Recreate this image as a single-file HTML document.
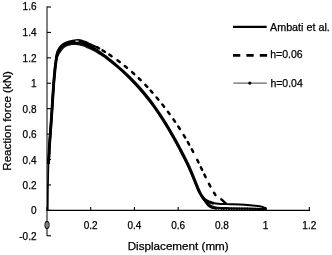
<!DOCTYPE html>
<html><head><meta charset="utf-8"><style>
html,body{margin:0;padding:0;background:#fff;}
svg{display:block;will-change:transform;}
</style></head><body>
<svg width="332" height="255" viewBox="0 0 332 255">
<rect width="332" height="255" fill="#fff"/>
<g stroke="#000" fill="none">
  <line x1="47" y1="6.5" x2="47" y2="236" stroke="#000" stroke-width="1"/>
  <line x1="46.5" y1="210.4" x2="310" y2="210.4" stroke-width="1.35"/>
  <line x1="47" y1="6.99" x2="51" y2="6.99" stroke-width="1.1"/>
  <line x1="47" y1="32.41" x2="51" y2="32.41" stroke-width="1.1"/>
  <line x1="47" y1="57.83" x2="51" y2="57.83" stroke-width="1.1"/>
  <line x1="47" y1="83.25" x2="51" y2="83.25" stroke-width="1.1"/>
  <line x1="47" y1="108.67" x2="51" y2="108.67" stroke-width="1.1"/>
  <line x1="47" y1="134.09" x2="51" y2="134.09" stroke-width="1.1"/>
  <line x1="47" y1="159.51" x2="51" y2="159.51" stroke-width="1.1"/>
  <line x1="47" y1="184.93" x2="51" y2="184.93" stroke-width="1.1"/>
  <line x1="47" y1="210.35" x2="51" y2="210.35" stroke-width="1.1"/>
  <line x1="47" y1="235.77" x2="51" y2="235.77" stroke-width="1.1"/>
  <line x1="47.00" y1="210.4" x2="47.00" y2="207.0" stroke-width="1.1"/>
  <line x1="90.72" y1="210.4" x2="90.72" y2="207.0" stroke-width="1.1"/>
  <line x1="134.44" y1="210.4" x2="134.44" y2="207.0" stroke-width="1.1"/>
  <line x1="178.16" y1="210.4" x2="178.16" y2="207.0" stroke-width="1.1"/>
  <line x1="221.88" y1="210.4" x2="221.88" y2="207.0" stroke-width="1.1"/>
  <line x1="265.60" y1="210.4" x2="265.60" y2="207.0" stroke-width="1.1"/>
  <line x1="309.32" y1="210.4" x2="309.32" y2="207.0" stroke-width="1.1"/>
</g>
<path d="M47.75,210.4 L47.9,190 L48.2,175 L48.5,162" stroke="#000" stroke-width="1.7" fill="none"/>
<path d="M48.45,164.00 C48.49,163.33 48.61,161.50 48.70,160.00 C48.79,158.50 48.87,157.50 49.00,155.00 C49.13,152.50 49.28,148.50 49.50,145.00 C49.72,141.50 50.00,138.17 50.30,134.00 C50.60,129.83 51.00,124.33 51.30,120.00 C51.60,115.67 51.72,113.83 52.10,108.00 C52.48,102.17 53.13,91.33 53.60,85.00 C54.07,78.67 54.50,74.00 54.90,70.00 C55.30,66.00 55.63,63.17 56.00,61.00 C56.37,58.83 56.62,58.30 57.10,57.00 C57.58,55.70 58.22,54.37 58.90,53.20 C59.58,52.03 60.42,50.98 61.20,50.00 C61.98,49.02 62.80,48.02 63.60,47.30 C64.40,46.58 65.18,46.10 66.00,45.70 C66.82,45.30 67.50,45.17 68.50,44.90 C69.50,44.63 70.75,44.25 72.00,44.10 C73.25,43.95 74.67,43.92 76.00,44.00 C77.33,44.08 78.67,44.33 80.00,44.60 C81.33,44.87 82.67,45.12 84.00,45.60 C85.33,46.08 86.67,46.88 88.00,47.50 C89.33,48.12 90.67,48.67 92.00,49.30 C93.33,49.93 94.67,50.52 96.00,51.30 C97.33,52.08 98.33,52.95 100.00,54.00 C101.67,55.05 104.33,56.45 106.00,57.60 C107.67,58.75 108.28,59.50 110.00,60.90 C111.72,62.30 114.33,64.35 116.30,66.00 C118.27,67.65 120.02,69.17 121.80,70.80 C123.58,72.43 125.36,74.18 127.00,75.80 C128.65,77.42 130.10,78.88 131.67,80.50 C133.24,82.12 134.89,83.83 136.42,85.50 C137.95,87.17 139.43,88.83 140.87,90.50 C142.31,92.17 143.71,93.83 145.07,95.50 C146.43,97.17 147.75,98.83 149.04,100.50 C150.33,102.17 151.57,103.83 152.79,105.50 C154.01,107.17 155.19,108.83 156.35,110.50 C157.51,112.17 158.64,113.83 159.74,115.50 C160.84,117.17 161.92,118.83 162.98,120.50 C164.04,122.17 165.06,123.83 166.08,125.50 C167.10,127.17 168.09,128.83 169.07,130.50 C170.05,132.17 171.02,133.83 171.97,135.50 C172.92,137.17 173.85,138.83 174.77,140.50 C175.69,142.17 176.60,143.83 177.50,145.50 C178.40,147.17 179.28,148.83 180.16,150.50 C181.03,152.17 181.90,153.83 182.75,155.50 C183.60,157.17 184.45,158.83 185.29,160.50 C186.13,162.17 187.00,163.83 187.78,165.50 C188.56,167.17 189.28,168.83 190.00,170.50 C190.72,172.17 191.42,173.83 192.10,175.50 C192.78,177.17 193.43,178.83 194.10,180.50 C194.77,182.17 195.42,183.83 196.10,185.50 C196.78,187.17 197.40,188.92 198.20,190.50 C199.00,192.08 200.10,193.65 200.90,195.00 C201.70,196.35 202.20,197.50 203.00,198.60 C203.80,199.70 204.70,200.62 205.70,201.60 C206.70,202.58 207.80,203.65 209.00,204.50 C210.20,205.35 211.40,206.15 212.90,206.70 C214.40,207.25 215.15,207.55 218.00,207.80 C220.85,208.05 224.67,208.07 230.00,208.20 C235.33,208.33 243.92,208.43 250.00,208.60 C256.08,208.77 263.75,209.10 266.50,209.20" stroke="#111" stroke-width="2.0" fill="none"/>
<path d="M201.60,195.20 C202.08,196.00 203.57,198.53 204.50,200.00 C205.43,201.47 206.37,202.93 207.20,204.00 C208.03,205.07 208.72,205.80 209.50,206.40 C210.28,207.00 210.82,207.32 211.90,207.60 C212.98,207.88 215.32,208.02 216.00,208.10" stroke="#000" stroke-width="2.4" fill="none"/>
<path d="M48.45,164.00 C48.49,163.33 48.61,161.50 48.70,160.00 C48.79,158.50 48.87,157.50 49.00,155.00 C49.13,152.50 49.28,148.50 49.50,145.00 C49.72,141.50 50.00,138.17 50.30,134.00 C50.60,129.83 51.00,124.33 51.30,120.00 C51.60,115.67 51.72,113.83 52.10,108.00 C52.48,102.17 53.13,91.33 53.60,85.00 C54.07,78.67 54.50,74.00 54.90,70.00 C55.30,66.00 55.72,63.33 56.00,61.00 C56.28,58.67 56.32,57.58 56.60,56.00 C56.88,54.42 57.22,52.80 57.70,51.50 C58.18,50.20 58.85,49.18 59.50,48.20 C60.15,47.22 60.85,46.32 61.60,45.60 C62.35,44.88 62.93,44.48 64.00,43.90 C65.07,43.32 66.67,42.57 68.00,42.10 C69.33,41.63 70.67,41.38 72.00,41.10 C73.33,40.82 74.67,40.52 76.00,40.40 C77.33,40.28 78.67,40.18 80.00,40.40 C81.33,40.62 82.67,41.22 84.00,41.70 C85.33,42.18 86.67,42.70 88.00,43.30 C89.33,43.90 90.67,44.68 92.00,45.30 C93.33,45.92 95.33,46.72 96.00,47.00" stroke="#000" stroke-width="2.4" fill="none"/>
<path d="M48.45,164.00 C48.49,163.33 48.61,161.50 48.70,160.00 C48.79,158.50 48.87,157.50 49.00,155.00 C49.13,152.50 49.28,148.50 49.50,145.00 C49.72,141.50 50.00,138.17 50.30,134.00 C50.60,129.83 51.00,124.33 51.30,120.00 C51.60,115.67 51.72,113.83 52.10,108.00 C52.48,102.17 53.13,91.33 53.60,85.00 C54.07,78.67 54.50,74.00 54.90,70.00 C55.30,66.00 55.68,63.33 56.00,61.00 C56.32,58.67 56.47,57.53 56.80,56.00 C57.13,54.47 57.47,53.05 58.00,51.80 C58.53,50.55 59.33,49.42 60.00,48.50 C60.67,47.58 61.33,46.92 62.00,46.30 C62.67,45.68 63.00,45.28 64.00,44.80 C65.00,44.32 66.67,43.77 68.00,43.40 C69.33,43.03 70.67,42.80 72.00,42.60 C73.33,42.40 74.67,42.22 76.00,42.20 C77.33,42.18 78.67,42.25 80.00,42.50 C81.33,42.75 82.67,43.20 84.00,43.70 C85.33,44.20 86.67,44.87 88.00,45.50 C89.33,46.13 90.67,46.78 92.00,47.50 C93.33,48.22 94.67,48.95 96.00,49.80 C97.33,50.65 98.33,51.40 100.00,52.60 C101.67,53.80 104.33,55.73 106.00,57.00 C107.67,58.27 108.34,58.87 110.00,60.20 C111.66,61.53 114.02,63.37 115.97,65.00 C117.92,66.63 119.86,68.33 121.72,70.00 C123.58,71.67 125.38,73.33 127.12,75.00 C128.86,76.67 130.54,78.33 132.17,80.00 C133.80,81.67 135.39,83.33 136.92,85.00 C138.45,86.67 139.93,88.33 141.37,90.00 C142.81,91.67 144.21,93.33 145.57,95.00 C146.93,96.67 148.25,98.33 149.54,100.00 C150.83,101.67 152.07,103.33 153.29,105.00 C154.51,106.67 155.69,108.33 156.85,110.00 C158.01,111.67 159.14,113.33 160.24,115.00 C161.34,116.67 162.42,118.33 163.48,120.00 C164.54,121.67 165.56,123.33 166.58,125.00 C167.60,126.67 168.59,128.33 169.57,130.00 C170.55,131.67 171.52,133.33 172.47,135.00 C173.42,136.67 174.35,138.33 175.27,140.00 C176.19,141.67 177.10,143.33 178.00,145.00 C178.90,146.67 179.78,148.33 180.66,150.00 C181.53,151.67 182.40,153.33 183.25,155.00 C184.10,156.67 184.95,158.33 185.79,160.00 C186.63,161.67 187.50,163.33 188.28,165.00 C189.06,166.67 189.78,168.33 190.50,170.00 C191.22,171.67 191.92,173.33 192.60,175.00 C193.28,176.67 193.93,178.33 194.60,180.00 C195.27,181.67 195.92,183.33 196.60,185.00 C197.28,186.67 197.98,188.40 198.70,190.00 C199.42,191.60 200.15,193.28 200.90,194.60 C201.65,195.92 202.38,196.95 203.20,197.90 C204.02,198.85 204.87,199.63 205.80,200.30 C206.73,200.97 207.77,201.48 208.80,201.90 C209.83,202.32 211.12,202.58 212.00,202.80 C212.88,203.02 213.75,203.13 214.10,203.20" stroke="#000" stroke-width="2.9" fill="none" stroke-linejoin="round"/>
<path d="M208.80,201.90 C209.33,202.05 211.12,202.58 212.00,202.80 C212.88,203.02 213.10,203.05 214.10,203.20 C215.10,203.35 216.68,203.57 218.00,203.70 C219.32,203.83 220.00,203.92 222.00,204.00 C224.00,204.08 227.00,204.12 230.00,204.20 C233.00,204.28 236.67,204.33 240.00,204.50 C243.33,204.67 247.00,204.95 250.00,205.20 C253.00,205.45 255.83,205.68 258.00,206.00 C260.17,206.32 261.58,206.63 263.00,207.10 C264.42,207.57 265.92,208.52 266.50,208.80" stroke="#000" stroke-width="1.9" fill="none"/>
<path d="M96.76,46.98 L97.35,47.31 L97.94,47.65 L98.53,47.99 L99.11,48.33 L99.18,48.36 M102.52,50.35 L103.07,50.69 L103.62,51.03 L104.17,51.36 L104.71,51.70 L104.89,51.81 M109.33,54.66 L109.90,55.04 L110.46,55.41 L111.02,55.79 L111.57,56.17 L111.62,56.20 M117.47,60.33 L118.03,60.74 L118.59,61.15 L119.14,61.57 L119.69,61.98 L119.74,62.02 M124.78,65.95 L125.29,66.37 L125.80,66.78 L126.30,67.19 L126.80,67.61 L126.94,67.72 M132.14,72.18 L132.65,72.63 L133.15,73.08 L133.65,73.53 L134.15,73.98 L134.23,74.06 M138.72,78.26 L139.22,78.75 L139.72,79.23 L140.22,79.72 L140.72,80.21 M145.33,84.90 L145.80,85.38 L146.26,85.87 L146.72,86.36 L147.18,86.85 L147.29,86.96 M150.66,90.64 L151.10,91.12 L151.54,91.61 L151.97,92.10 L152.40,92.59 L152.50,92.70 M156.61,97.46 L157.05,97.99 L157.49,98.51 L157.93,99.04 L158.36,99.56 L158.40,99.60 M162.34,104.48 L162.76,105.00 L163.17,105.53 L163.58,106.05 L163.99,106.58 L164.08,106.69 M167.96,111.79 L168.37,112.35 L168.79,112.92 L169.20,113.48 L169.61,114.04 M173.47,119.44 L173.86,120.01 L174.25,120.57 L174.64,121.13 L175.03,121.69 L175.05,121.73 M178.27,126.53 L178.64,127.10 L179.00,127.66 L179.37,128.22 L179.73,128.78 L179.81,128.90 M183.70,135.12 L184.06,135.72 L184.43,136.32 L184.79,136.92 L185.14,137.52 M187.83,142.14 L188.17,142.74 L188.51,143.34 L188.85,143.94 L189.19,144.54 L189.21,144.57 M191.85,149.41 L192.18,150.01 L192.49,150.61 L192.81,151.21 L193.13,151.81 L193.17,151.89 M197.24,159.88 L197.54,160.48 L197.83,161.08 L198.13,161.68 L198.42,162.28 L198.48,162.39 M200.88,167.34 L201.17,167.94 L201.46,168.54 L201.75,169.14 L202.04,169.74 L202.09,169.86 M204.41,174.66 L204.70,175.26 L205.00,175.86 L205.29,176.46 L205.58,177.06 L205.64,177.17 M209.02,183.85 L209.33,184.45 L209.65,185.05 L209.97,185.65 L210.30,186.25 L210.34,186.32 M213.99,192.70 L214.34,193.26 L214.68,193.82 L215.04,194.39 L215.40,194.95 L215.47,195.06" stroke="#000" stroke-width="2.5" stroke-linecap="round" fill="none"/>
<path d="M221.30,199.30 C221.72,199.68 222.98,200.85 223.80,201.60 C224.62,202.35 225.80,203.43 226.20,203.80" stroke="#000" stroke-width="2.4" stroke-linecap="round" fill="none"/>
<ellipse cx="77" cy="41.1" rx="2.1" ry="0.7" fill="#fff"/>
<g fill="#000"><circle cx="48.5" cy="160.0" r="1.2"/><circle cx="216.0" cy="208.6" r="1.2"/><circle cx="218.6" cy="208.6" r="1.2"/><circle cx="221.2" cy="208.6" r="1.2"/><circle cx="223.8" cy="208.7" r="1.2"/><circle cx="226.4" cy="208.7" r="1.2"/><circle cx="229.0" cy="208.7" r="1.2"/><circle cx="231.6" cy="208.7" r="1.2"/><circle cx="234.2" cy="208.7" r="1.2"/><circle cx="236.8" cy="208.8" r="1.2"/><circle cx="239.4" cy="208.8" r="1.2"/><circle cx="242.0" cy="208.8" r="1.2"/><circle cx="244.6" cy="208.8" r="1.2"/><circle cx="247.2" cy="208.8" r="1.2"/><circle cx="249.8" cy="208.9" r="1.2"/><circle cx="252.4" cy="208.9" r="1.2"/><circle cx="255.0" cy="208.9" r="1.2"/><circle cx="257.6" cy="208.9" r="1.2"/><circle cx="260.2" cy="209.0" r="1.2"/><circle cx="262.8" cy="209.0" r="1.2"/><circle cx="265.4" cy="209.0" r="1.2"/></g>
<line x1="233" y1="26.8" x2="266.7" y2="26.8" stroke="#000" stroke-width="2.2"/>
<line x1="233" y1="55.3" x2="267.2" y2="55.3" stroke="#000" stroke-width="2.8" stroke-dasharray="7.3,6.1"/>
<line x1="233.4" y1="83.1" x2="266.7" y2="83.1" stroke="#666" stroke-width="1.4"/>
<circle cx="249.8" cy="83.1" r="1.6" fill="#000"/>
<text x="36.5" y="10.09" font-family="Liberation Sans, sans-serif" stroke="#000" stroke-width="0.25" font-size="10" text-anchor="end">1.6</text>
<text x="36.5" y="36.41" font-family="Liberation Sans, sans-serif" stroke="#000" stroke-width="0.25" font-size="10" text-anchor="end">1.4</text>
<text x="36.5" y="61.83" font-family="Liberation Sans, sans-serif" stroke="#000" stroke-width="0.25" font-size="10" text-anchor="end">1.2</text>
<text x="36.5" y="87.25" font-family="Liberation Sans, sans-serif" stroke="#000" stroke-width="0.25" font-size="10" text-anchor="end">1</text>
<text x="36.5" y="112.67" font-family="Liberation Sans, sans-serif" stroke="#000" stroke-width="0.25" font-size="10" text-anchor="end">0.8</text>
<text x="36.5" y="138.09" font-family="Liberation Sans, sans-serif" stroke="#000" stroke-width="0.25" font-size="10" text-anchor="end">0.6</text>
<text x="36.5" y="163.51" font-family="Liberation Sans, sans-serif" stroke="#000" stroke-width="0.25" font-size="10" text-anchor="end">0.4</text>
<text x="36.5" y="188.93" font-family="Liberation Sans, sans-serif" stroke="#000" stroke-width="0.25" font-size="10" text-anchor="end">0.2</text>
<text x="36.5" y="214.35" font-family="Liberation Sans, sans-serif" stroke="#000" stroke-width="0.25" font-size="10" text-anchor="end">0</text>
<text x="36.5" y="239.77" font-family="Liberation Sans, sans-serif" stroke="#000" stroke-width="0.25" font-size="10" text-anchor="end">-0.2</text>
<text x="47.00" y="228.8" font-family="Liberation Sans, sans-serif" stroke="#000" stroke-width="0.25" font-size="10" text-anchor="middle">0</text>
<text x="90.72" y="228.8" font-family="Liberation Sans, sans-serif" stroke="#000" stroke-width="0.25" font-size="10" text-anchor="middle">0.2</text>
<text x="134.44" y="228.8" font-family="Liberation Sans, sans-serif" stroke="#000" stroke-width="0.25" font-size="10" text-anchor="middle">0.4</text>
<text x="178.16" y="228.8" font-family="Liberation Sans, sans-serif" stroke="#000" stroke-width="0.25" font-size="10" text-anchor="middle">0.6</text>
<text x="221.88" y="228.8" font-family="Liberation Sans, sans-serif" stroke="#000" stroke-width="0.25" font-size="10" text-anchor="middle">0.8</text>
<text x="265.60" y="228.8" font-family="Liberation Sans, sans-serif" stroke="#000" stroke-width="0.25" font-size="10" text-anchor="middle">1</text>
<text x="309.32" y="228.8" font-family="Liberation Sans, sans-serif" stroke="#000" stroke-width="0.25" font-size="10" text-anchor="middle">1.2</text>
<text x="178.2" y="249.8" font-family="Liberation Sans, sans-serif" stroke="#000" stroke-width="0.25" font-size="10.6" text-anchor="middle" textLength="101" lengthAdjust="spacingAndGlyphs">Displacement (mm)</text>
<text transform="translate(10.6,120.9) rotate(-90)" x="0" y="0" font-family="Liberation Sans, sans-serif" stroke="#000" stroke-width="0.25" font-size="11.6" text-anchor="middle" textLength="99.6" lengthAdjust="spacingAndGlyphs">Reaction force (kN)</text>
<text x="270" y="30.5" font-family="Liberation Sans, sans-serif" stroke="#000" stroke-width="0.25" font-size="10.6" textLength="59.8" lengthAdjust="spacingAndGlyphs">Ambati et al.</text>
<text x="270.2" y="58.2" font-family="Liberation Sans, sans-serif" stroke="#000" stroke-width="0.25" font-size="10.5">h=0.06</text>
<text x="270.4" y="86.6" font-family="Liberation Sans, sans-serif" stroke="#000" stroke-width="0.25" font-size="10.5">h=0.04</text>
</svg>
</body></html>
